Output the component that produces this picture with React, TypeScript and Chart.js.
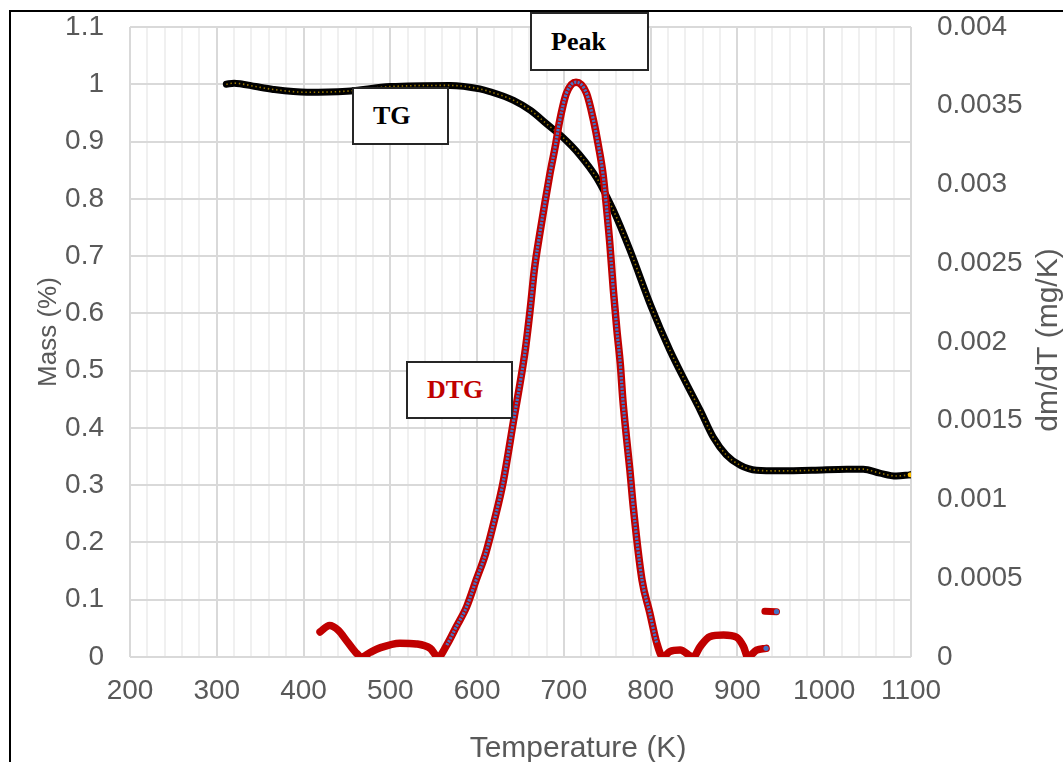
import React, { useEffect, useRef } from 'react';
import { Chart, registerables } from 'chart.js';

Chart.register(...registerables);

// TG curve (left axis, Mass fraction)
const tgTemp = [311, 320, 327, 345, 365, 404, 450, 500, 569, 603, 615, 642, 662, 680, 699, 718, 738, 757, 776, 800, 822, 841, 857, 872, 887, 903, 922, 949, 987, 1026, 1045, 1064, 1083, 1099];
const tgMass = [1.0, 1.002, 1.001, 0.996, 0.991, 0.986, 0.988, 0.996, 0.998, 0.992, 0.987, 0.972, 0.954, 0.931, 0.907, 0.877, 0.836, 0.78, 0.711, 0.614, 0.536, 0.478, 0.431, 0.384, 0.353, 0.335, 0.326, 0.325, 0.326, 0.328, 0.328, 0.321, 0.316, 0.318];

// DTG curve (right axis, dm/dT)
const dtgTemp = [419, 430, 440, 450, 460, 467, 477, 488, 511, 530, 546, 555, 565, 576, 588, 599, 610, 620, 630, 642, 655, 661, 666, 672, 678, 684, 690, 695, 703, 714, 726, 734, 740, 745, 749, 753, 757, 761, 765, 768, 772, 776, 780, 790, 799, 807, 814, 822, 834, 849, 857, 868, 884, 899, 907, 912, 922, 933];
const dtgRate = [0.000159, 0.0002, 0.00017, 0.0001, 0.00003, 0.0, 0.00003, 0.000058, 0.000088, 0.000083, 0.000055, 0.0, 0.000076, 0.000192, 0.00032, 0.00049, 0.00066, 0.00087, 0.00111, 0.0015, 0.00193, 0.0022, 0.00246, 0.00268, 0.00288, 0.00307, 0.00324, 0.0034, 0.00358, 0.00365, 0.00358, 0.00341, 0.00324, 0.00307, 0.00286, 0.00262, 0.00233, 0.00208, 0.00186, 0.00163, 0.0014, 0.00119, 0.00095, 0.00049, 0.00028, 0.00009, 0.0, 0.000034, 0.000044, 0.0, 0.000066, 0.000129, 0.00014, 0.000125, 0.000066, 0.0, 0.000044, 0.000055];

// short detached DTG segment
const dtgTailTemp = [931.6, 938, 945];
const dtgTailRate = [0.00029, 0.000289, 0.000288];

// axis tick settings
const xMin = 200;
const xMax = 1100;
const xMajor = 100;
const xMinor = 20;
const yMin = 0;
const yMax = 1.1;
const yStep = 0.1;
const y2Min = 0;
const y2Max = 0.004;
const y2Step = 0.0005;

const labels = { x: 'Temperature (K)', y: 'Mass (%)', y2: 'dm/dT (mg/K)' };
const boxLabels = ['Peak', 'TG', 'DTG'];

const RED = '#C00000';
const BLUE = '#4472C4';
const TICK = '#595959';
const FONT_FAMILY = '"Liberation Sans", Arial, sans-serif';
const FONT_SIZE = 28;
const TITLE_SIZE = 30;
const Y_TITLE_SIZE = 26;

const toXY = (xs: number[], ys: number[]) => xs.map((x, i) => ({ x, y: ys[i] }));

const drawText = (ctx: CanvasRenderingContext2D, text: string, x: number, y: number, rot: number, size: number) => {
  ctx.save();
  ctx.fillStyle = TICK;
  ctx.font = `${size}px ${FONT_FAMILY}`;
  ctx.textAlign = 'center';
  ctx.textBaseline = 'alphabetic';
  ctx.translate(x, y);
  ctx.rotate(rot);
  ctx.fillText(text, 0, 0);
  ctx.restore();
};

const titlePlugin = {
  id: 'customTitles',
  afterDraw(chart: any) {
    const ctx = chart.ctx as CanvasRenderingContext2D;
    drawText(ctx, labels.x, 578, 757, 0, TITLE_SIZE);
    drawText(ctx, labels.y, 56, 332, -Math.PI / 2, Y_TITLE_SIZE);
    drawText(ctx, labels.y2, 1057, 340, -Math.PI / 2, TITLE_SIZE);
  },
};

export default function App() {
  const canvasRef = useRef<HTMLCanvasElement | null>(null);

  useEffect(() => {
    const canvas = canvasRef.current;
    if (!canvas) return;
    const tg = toXY(tgTemp, tgMass);
    const dtg = toXY(dtgTemp, dtgRate);
    const tail = toXY(dtgTailTemp, dtgTailRate);
    const lastDot = (n: number, r: number) => (c: any) => (c.dataIndex === n - 1 ? r : 0);

    const chart = new Chart(canvas, {
      type: 'scatter',
      data: {
        datasets: [
          {
            data: dtg,
            yAxisID: 'y2',
            showLine: true,
            borderColor: BLUE,
            borderWidth: 3.2,
            borderDash: [2.2, 1.3],
            cubicInterpolationMode: 'monotone',
            pointRadius: lastDot(dtg.length, 2.6),
            pointBackgroundColor: BLUE,
            pointBorderWidth: 0,
            segment: {
              borderColor: (c: any) => {
                const t0 = dtgTemp[c.p0DataIndex];
                const t1 = dtgTemp[c.p1DataIndex];
                return t0 >= 565 && t1 <= 807 ? BLUE : 'rgba(0,0,0,0)';
              },
            },
          } as any,
          {
            data: tail,
            yAxisID: 'y2',
            showLine: true,
            borderColor: RED,
            borderWidth: 7,
            borderCapStyle: 'round',
            pointRadius: lastDot(tail.length, 2.6),
            pointBackgroundColor: BLUE,
            pointBorderWidth: 0,
          } as any,
          {
            data: dtg,
            yAxisID: 'y2',
            showLine: true,
            borderColor: RED,
            borderWidth: 7.5,
            borderCapStyle: 'round',
            borderJoinStyle: 'round',
            cubicInterpolationMode: 'monotone',
            pointRadius: 0,
          } as any,
          {
            data: tg,
            yAxisID: 'y',
            showLine: true,
            borderColor: '#9a7800',
            borderWidth: 1.6,
            borderDash: [1.4, 2.8],
            cubicInterpolationMode: 'monotone',
            pointRadius: lastDot(tg.length, 3),
            pointBackgroundColor: '#FFC000',
            pointBorderColor: '#000000',
            pointBorderWidth: 1,
          } as any,
          {
            data: tg,
            yAxisID: 'y',
            showLine: true,
            borderColor: '#000000',
            borderWidth: 7,
            borderCapStyle: 'round',
            borderJoinStyle: 'round',
            cubicInterpolationMode: 'monotone',
            pointRadius: 0,
          } as any,
        ],
      },
      options: {
        responsive: false,
        animation: false,
        devicePixelRatio: 1,
        layout: { padding: { top: 27, left: 0, right: 0, bottom: 0 } },
        plugins: {
          legend: { display: false },
          tooltip: { enabled: false },
        },
        scales: {
          x: {
            type: 'linear',
            min: xMin,
            max: xMax,
            afterFit: (s: any) => {
              s.height = 105;
              s.paddingLeft = 0;
              s.paddingRight = 0;
            },
            ticks: {
              stepSize: xMinor,
              autoSkip: false,
              maxRotation: 0,
              minRotation: 0,
              padding: 17,
              color: TICK,
              font: { family: FONT_FAMILY, size: FONT_SIZE },
              callback: (v: any) => (Math.round(v) % xMajor === 0 ? String(Math.round(v)) : ''),
            },
            grid: {
              drawTicks: false,
              lineWidth: 2,
              color: (c: any) => (c.tick && Math.round(c.tick.value) % xMajor === 0 ? '#d9d9d9' : '#f0f0f0'),
            },
            border: { display: false },
          },
          y: {
            type: 'linear',
            position: 'left',
            min: yMin,
            max: yMax,
            afterFit: (s: any) => {
              s.width = 130;
              s.paddingTop = 0;
              s.paddingBottom = 0;
            },
            ticks: {
              stepSize: yStep,
              padding: 26,
              color: TICK,
              font: { family: FONT_FAMILY, size: FONT_SIZE },
              callback: (v: any) => String(Math.round(v * 10) / 10),
            },
            grid: { drawTicks: false, lineWidth: 2, color: '#d9d9d9' },
            border: { display: false },
          },
          y2: {
            type: 'linear',
            position: 'right',
            min: y2Min,
            max: y2Max,
            afterFit: (s: any) => {
              s.width = 152;
              s.paddingTop = 0;
              s.paddingBottom = 0;
            },
            ticks: {
              stepSize: y2Step,
              padding: 26,
              color: TICK,
              font: { family: FONT_FAMILY, size: FONT_SIZE },
              callback: (v: any) => String(+Number(v).toFixed(4)),
            },
            grid: { display: false, drawTicks: false },
            border: { display: false },
          },
        },
      } as any,
      plugins: [titlePlugin],
    });
    return () => chart.destroy();
  }, []);

  const boxBase: React.CSSProperties = {
    position: 'absolute',
    boxSizing: 'border-box',
    border: '2px solid #262626',
    background: '#ffffff',
    display: 'flex',
    alignItems: 'center',
    paddingLeft: 19,
    fontFamily: '"Liberation Serif", "Times New Roman", serif',
    fontWeight: 'bold',
    fontSize: 26,
    color: '#000000',
    lineHeight: 1,
  };

  return (
    <div style={{ position: 'fixed', left: 0, top: 0, width: 1063, height: 762, overflow: 'hidden', background: '#ffffff' }}>
      <div style={{ position: 'absolute', left: 9, top: 10, width: 1200, height: 900, border: '2px solid #000', boxSizing: 'border-box' }} />
      <canvas ref={canvasRef} width={1063} height={762} style={{ position: 'absolute', left: 0, top: 0, width: 1063, height: 762 }} />
      <div style={{ ...boxBase, left: 530, top: 12, width: 119, height: 59 }}>{boxLabels[0]}</div>
      <div style={{ ...boxBase, left: 352, top: 87, width: 97, height: 58 }}>{boxLabels[1]}</div>
      <div style={{ ...boxBase, left: 406, top: 361, width: 107, height: 58, color: RED }}>{boxLabels[2]}</div>
    </div>
  );
}
